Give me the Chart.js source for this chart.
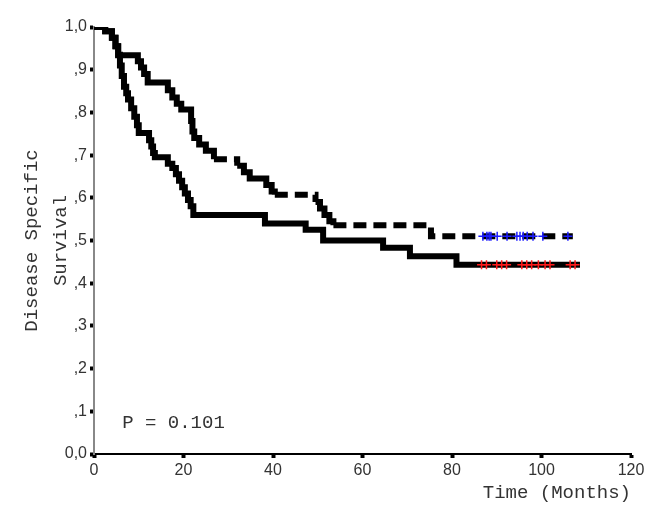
<!DOCTYPE html>
<html>
<head>
<meta charset="utf-8">
<script src="https://cdn.jsdelivr.net/npm/chart.js@4/dist/chart.umd.min.js"></script>
<style>
  html, body { margin: 0; padding: 0; background: #fff; }
  #wrap { width: 658px; height: 515px; }
</style>
</head>
<body>
<div id="wrap"><canvas id="survivalChart"></canvas></div>
<script>
// Kaplan-Meier steps (months, survival after the step)
const dashedTimes = [0, 2.5, 4, 4.8, 5.4, 9.8, 10.5, 11.2, 12.0, 16.5, 17.5, 18.5, 19.5, 21.7, 22.0, 22.4,
  23.5, 25.0, 26.8, 32.0, 33.5, 34.8, 38.5, 39.7, 40.4, 49.5, 50.5, 51.5, 52.6, 53.5, 75.3, 107.0];
const dashedSurvival = [1.0, 0.99, 0.975, 0.955, 0.934, 0.92, 0.905, 0.89, 0.87, 0.852, 0.835, 0.82, 0.807, 0.78, 0.755, 0.74,
  0.725, 0.71, 0.69, 0.675, 0.66, 0.645, 0.63, 0.615, 0.607, 0.59, 0.575, 0.56, 0.545, 0.536, 0.51, 0.51];

const solidTimes = [0, 2.5, 4, 4.8, 5.4, 5.8, 6.2, 6.7, 7.2, 7.6, 8.3, 9.0, 9.6, 10.0, 12.3, 12.8, 13.2, 13.6,
  16.5, 17.5, 18.3, 19.0, 19.7, 20.3, 21.0, 21.6, 22.2, 38.2, 47.3, 51.2, 64.6, 70.6, 81.0, 108.6];
const solidSurvival = [1.0, 0.99, 0.975, 0.955, 0.935, 0.91, 0.885, 0.86, 0.845, 0.83, 0.81, 0.79, 0.77, 0.752, 0.735, 0.72, 0.705, 0.695,
  0.68, 0.67, 0.655, 0.64, 0.625, 0.61, 0.595, 0.58, 0.56, 0.54, 0.525, 0.50, 0.483, 0.463, 0.443, 0.443];

// censored cases (months)
const dashedCensored = [86.9, 87.8, 88.3, 88.7, 90.1, 92.3, 94.5, 95.2, 95.9, 96.8, 98.1, 100.3, 105.9];
const solidCensored = [86.6, 87.7, 90.0, 91.1, 92.2, 95.6, 96.7, 97.8, 99.3, 100.8, 101.9, 106.4, 107.5];

const xTicks = [0, 20, 40, 60, 80, 100, 120];
const pValueLabel = "P = 0.101";

function toPoints(times, values) {
  return times.map((t, i) => ({ x: t, y: values[i] }));
}

function survivalAt(times, values, t) {
  let s = values[0];
  times.forEach((tt, i) => { if (tt <= t) s = values[i]; });
  return s;
}

function censorPoints(censored, times, values) {
  return censored.map(t => ({ x: t, y: survivalAt(times, values, t) }));
}

// short runs between drops stay solid, long flat runs get the dashes
const longRunDash = ctx => (ctx.p1.x - ctx.p0.x > 22 ? [13, 7] : []);

const pLabelPlugin = {
  id: "pLabel",
  afterDraw(chart) {
    const { ctx, scales } = chart;
    ctx.save();
    ctx.font = "19px 'Liberation Mono', monospace";
    ctx.fillStyle = "#333";
    ctx.textBaseline = "alphabetic";
    ctx.fillText(pValueLabel, scales.x.getPixelForValue(6.3), 428);
    ctx.restore();
  }
};

const ctx = document.getElementById("survivalChart");

new Chart(ctx, {
  type: "line",
  data: {
    datasets: [
      {
        data: censorPoints(dashedCensored, dashedTimes, dashedSurvival),
        showLine: false,
        pointStyle: "cross",
        pointRadius: 4.5,
        pointBorderWidth: 1.5,
        pointBorderColor: "#1e1eff",
        order: 0
      },
      {
        data: censorPoints(solidCensored, solidTimes, solidSurvival),
        showLine: false,
        pointStyle: "cross",
        pointRadius: 4.5,
        pointBorderWidth: 1.5,
        pointBorderColor: "#ff1a1a",
        order: 0
      },
      {
        data: toPoints(dashedTimes, dashedSurvival),
        stepped: "before",
        borderColor: "#000",
        borderWidth: 6,
        segment: { borderDash: longRunDash },
        borderCapStyle: "butt",
        borderJoinStyle: "miter",
        pointRadius: 0,
        order: 1
      },
      {
        data: toPoints(solidTimes, solidSurvival),
        stepped: "before",
        borderColor: "#000",
        borderWidth: 6,
        borderCapStyle: "butt",
        borderJoinStyle: "miter",
        pointRadius: 0,
        order: 1
      }
    ]
  },
  options: {
    responsive: true,
    maintainAspectRatio: false,
    animation: false,
    layout: { padding: { top: 27, right: 27, left: 0, bottom: 0 } },
    plugins: {
      legend: { display: false },
      tooltip: { enabled: false }
    },
    scales: {
      x: {
        type: "linear",
        min: 0,
        max: 120,
        afterBuildTicks: scale => { scale.ticks = xTicks.map(v => ({ value: v })); },
        afterFit: scale => { scale.height = 61; },
        grid: { drawOnChartArea: false, tickLength: 4, tickWidth: 4, tickColor: "#000" },
        border: { color: "#000", width: 2 },
        ticks: {
          color: "#333",
          padding: 3,
          font: { family: "'Liberation Sans', Arial, sans-serif", size: 16 }
        },
        title: {
          display: true,
          text: "Time (Months)",
          align: "end",
          color: "#333",
          padding: { top: 0, bottom: 11 },
          font: { family: "'Liberation Mono', monospace", size: 19, lineHeight: 1.2 }
        }
      },
      y: {
        min: 0,
        max: 1,
        afterFit: scale => { scale.width = 94; },
        grid: { drawOnChartArea: false, tickLength: 4, tickWidth: 4, tickColor: "#000" },
        border: { color: "#888", width: 2 },
        ticks: {
          stepSize: 0.1,
          color: "#333",
          padding: 3,
          font: { family: "'Liberation Sans', Arial, sans-serif", size: 16 },
          callback: v => {
            const d = Math.round(v * 10);
            if (d === 0) return "0,0";
            if (d === 10) return "1,0";
            return "," + d;
          }
        },
        title: {
          display: true,
          text: ["Disease Specific", "Survival"],
          color: "#333",
          padding: { top: 18, bottom: 0 },
          font: { family: "'Liberation Mono', monospace", size: 19, lineHeight: 1.5 }
        }
      }
    }
  },
  plugins: [pLabelPlugin]
});
</script>
</body>
</html>
